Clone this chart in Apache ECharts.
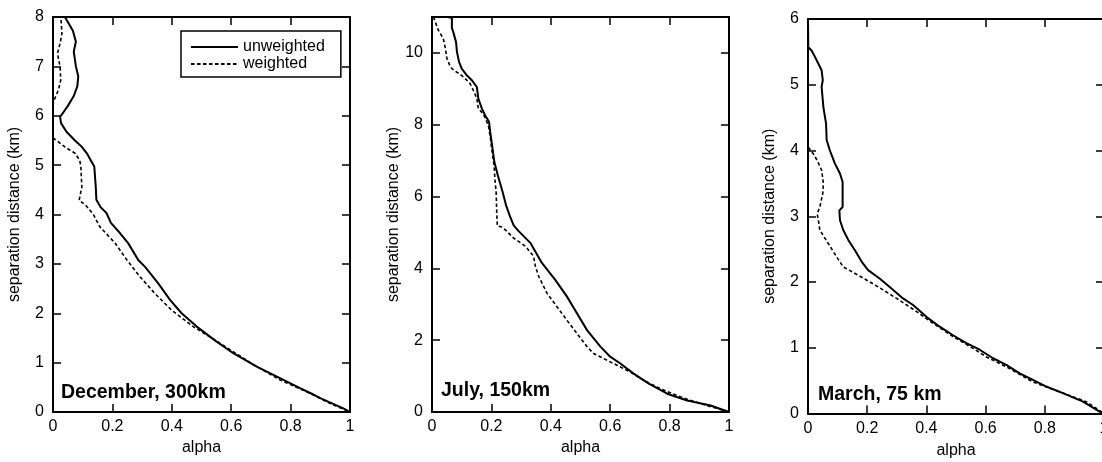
<!DOCTYPE html>
<html>
<head>
<meta charset="utf-8">
<script src="https://cdn.jsdelivr.net/npm/echarts@6/dist/echarts.min.js"></script>
<style>html,body{margin:0;padding:0;background:#fff;}#c{width:1102px;height:462px;}</style>
</head>
<body>
<div id="c"></div>
<script>
// ---- data: [alpha, separation distance (km)] ----
const decUnweighted = [[0.040,8.00],[0.050,7.90],[0.067,7.72],[0.077,7.50],[0.070,7.30],[0.077,7.00],[0.085,6.80],[0.082,6.60],[0.070,6.40],[0.050,6.20],[0.035,6.07],[0.024,5.98],[0.027,5.85],[0.046,5.67],[0.074,5.50],[0.097,5.37],[0.114,5.24],[0.127,5.10],[0.139,4.97],[0.144,4.56],[0.146,4.30],[0.160,4.15],[0.180,4.03],[0.195,3.83],[0.226,3.62],[0.253,3.42],[0.287,3.08],[0.310,2.94],[0.355,2.60],[0.394,2.27],[0.433,2.00],[0.484,1.73],[0.545,1.45],[0.607,1.19],[0.686,0.92],[0.776,0.65],[0.830,0.49],[0.871,0.37],[0.900,0.28],[0.930,0.20],[0.976,0.08],[1.000,0.00]];
const decWeighted = [[0.027,7.94],[0.030,7.67],[0.024,7.47],[0.015,7.26],[0.024,6.99],[0.026,6.72],[0.018,6.52],[0.004,6.32],[0.000,6.25],[0.000,5.55],[0.012,5.50],[0.040,5.37],[0.074,5.24],[0.090,5.10],[0.094,4.96],[0.097,4.55],[0.088,4.29],[0.110,4.19],[0.136,4.00],[0.158,3.75],[0.209,3.42],[0.249,3.08],[0.293,2.74],[0.343,2.40],[0.400,2.06],[0.472,1.73],[0.529,1.52],[0.596,1.26],[0.686,0.92],[0.764,0.65],[0.865,0.38],[0.930,0.18],[1.000,0.00]];
const julUnweighted = [[0.054,11.00],[0.067,10.97],[0.067,10.69],[0.071,10.60],[0.081,10.30],[0.084,10.03],[0.091,9.75],[0.100,9.56],[0.118,9.37],[0.134,9.24],[0.151,9.05],[0.156,8.73],[0.168,8.45],[0.179,8.26],[0.192,8.08],[0.196,7.80],[0.204,7.33],[0.210,6.96],[0.222,6.58],[0.238,6.12],[0.250,5.74],[0.262,5.46],[0.275,5.20],[0.290,5.05],[0.331,4.71],[0.370,4.15],[0.415,3.68],[0.454,3.22],[0.488,2.75],[0.522,2.28],[0.567,1.82],[0.600,1.54],[0.634,1.35],[0.679,1.07],[0.730,0.79],[0.792,0.51],[0.859,0.32],[0.938,0.18],[1.000,0.00]];
const julWeighted = [[0.005,11.00],[0.021,10.64],[0.038,10.40],[0.045,10.13],[0.050,9.85],[0.062,9.61],[0.073,9.52],[0.090,9.43],[0.106,9.33],[0.128,9.15],[0.139,8.96],[0.151,8.73],[0.156,8.45],[0.173,8.30],[0.190,7.98],[0.197,7.60],[0.201,7.33],[0.209,6.86],[0.212,6.48],[0.216,6.11],[0.218,5.55],[0.220,5.18],[0.235,5.15],[0.246,5.08],[0.274,4.85],[0.314,4.62],[0.342,4.34],[0.348,4.06],[0.359,3.78],[0.387,3.31],[0.420,2.94],[0.454,2.56],[0.488,2.19],[0.522,1.82],[0.544,1.63],[0.578,1.49],[0.623,1.30],[0.668,1.11],[0.713,0.88],[0.769,0.65],[0.850,0.38],[0.930,0.17],[1.000,0.00]];
const marUnweighted = [[0.000,6.00],[0.001,5.98],[0.001,5.57],[0.012,5.52],[0.024,5.42],[0.035,5.32],[0.046,5.22],[0.050,5.07],[0.046,4.97],[0.052,4.66],[0.061,4.41],[0.063,4.16],[0.074,4.00],[0.091,3.80],[0.108,3.65],[0.117,3.52],[0.117,3.14],[0.106,3.09],[0.108,2.94],[0.119,2.79],[0.136,2.64],[0.159,2.48],[0.181,2.31],[0.203,2.18],[0.243,2.05],[0.282,1.90],[0.321,1.75],[0.355,1.65],[0.400,1.47],[0.445,1.32],[0.490,1.19],[0.535,1.07],[0.580,0.97],[0.625,0.84],[0.670,0.74],[0.715,0.61],[0.760,0.51],[0.805,0.41],[0.861,0.31],[0.929,0.18],[0.985,0.03],[1.000,0.00]];
const marWeighted = [[0.001,4.05],[0.018,3.95],[0.031,3.85],[0.046,3.70],[0.052,3.50],[0.050,3.35],[0.040,3.14],[0.031,3.04],[0.035,2.94],[0.040,2.79],[0.068,2.59],[0.097,2.38],[0.119,2.23],[0.159,2.13],[0.209,2.00],[0.254,1.88],[0.310,1.72],[0.367,1.55],[0.423,1.37],[0.490,1.17],[0.558,0.99],[0.603,0.86],[0.670,0.71],[0.760,0.48],[0.850,0.33],[0.940,0.18],[1.000,0.00]];

const panelLabels = ['December, 300km', 'July, 150km', 'March, 75 km'];
const yMax = [8, 11, 6];
const yStep = [1, 2, 1];
const xName = 'alpha';
const yName = 'separation distance (km)';
const seriesNames = ['unweighted', 'weighted'];

const FONT = '"Liberation Sans", Arial, Helvetica, sans-serif';
const grids = [
  {left: 53, top: 17, width: 297, height: 395},
  {left: 432, top: 17, width: 297, height: 395},
  {left: 808, top: 19, width: 296, height: 394.5}
];
const nameGaps = [27, 27, 29];
const labelPos = [[61, 393], [441, 391], [818, 395]];
const panelData = [[decUnweighted, decWeighted], [julUnweighted, julWeighted], [marUnweighted, marWeighted]];

const axisLine = {show: true, onZero: false, lineStyle: {color: '#000', width: 2}};
const tick = {show: true, inside: true, length: 8, lineStyle: {color: '#000', width: 1.5}};
const xAxes = [], yAxes = [], series = [], graphics = [];
grids.forEach((g, i) => {
  xAxes.push({gridIndex: i, type: 'value', position: 'bottom', min: 0, max: 1, interval: 0.2,
    axisLine, axisTick: tick, splitLine: {show: false},
    axisLabel: {color: '#000', fontSize: 16, fontFamily: FONT, margin: 7, hideOverlap: false},
    name: xName, nameLocation: 'middle', nameGap: nameGaps[i],
    nameTextStyle: {color: '#000', fontSize: 16, fontFamily: FONT}});
  xAxes.push({gridIndex: i, type: 'value', position: 'top', min: 0, max: 1, interval: 0.2,
    axisLine, axisTick: tick, splitLine: {show: false}, axisLabel: {show: false}});
  yAxes.push({gridIndex: i, type: 'value', position: 'left', min: 0, max: yMax[i], interval: yStep[i],
    axisLine, axisTick: tick, splitLine: {show: false},
    axisLabel: {color: '#000', fontSize: 16, fontFamily: FONT, margin: 9, showMaxLabel: yMax[i] % yStep[i] === 0},
    name: yName, nameLocation: 'middle', nameGap: 30,
    nameTextStyle: {color: '#000', fontSize: 16, fontFamily: FONT}});
  yAxes.push({gridIndex: i, type: 'value', position: 'right', min: 0, max: yMax[i], interval: yStep[i],
    axisLine, axisTick: tick, splitLine: {show: false}, axisLabel: {show: false}});
  panelData[i].forEach((d, k) => {
    series.push({name: seriesNames[k], type: 'line', xAxisIndex: 2 * i, yAxisIndex: 2 * i,
      data: d, symbol: 'none', showSymbol: false, animation: false, z: 3,
      lineStyle: k === 0 ? {color: '#000', width: 2} : {color: '#000', width: 1.6, type: [3.5, 2.5]},
      itemStyle: {color: '#000'}});
  });
  graphics.push({type: 'text', x: labelPos[i][0], y: labelPos[i][1], z: 10,
    style: {text: panelLabels[i], font: 'bold 19.5px ' + FONT, fill: '#000', align: 'left', verticalAlign: 'middle'}});
});

const chart = echarts.init(document.getElementById('c'), null, {renderer: 'canvas'});
chart.setOption({
  animation: false,
  backgroundColor: '#fff',
  grid: grids.map(g => Object.assign({containLabel: false, outerBoundsMode: 'none'}, g)),
  xAxis: xAxes,
  yAxis: yAxes,
  series: series,
  legend: {data: seriesNames, left: 181, top: 31, orient: 'vertical', itemWidth: 47, itemHeight: 14, itemGap: 1,
    padding: [8, 16, 5, 9], borderColor: '#000', borderWidth: 1.5, backgroundColor: '#fff',
    itemStyle: {opacity: 0, borderWidth: 0},
    textStyle: {color: '#000', fontSize: 16, fontFamily: FONT}},
  graphic: graphics
});
</script>
</body>
</html>
